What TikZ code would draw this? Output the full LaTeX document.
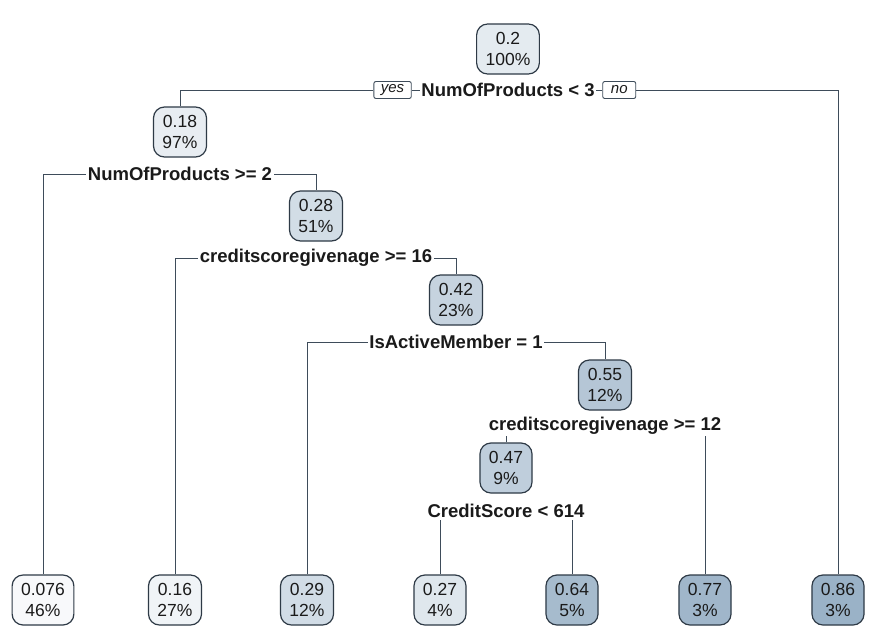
\documentclass[tikz,border=0pt]{standalone}
\usepackage{fontspec}
\setmainfont{Liberation Sans}
\usetikzlibrary{backgrounds}
\definecolor{nb}{HTML}{95AEC4}
\definecolor{bord}{HTML}{2E3A46}
\definecolor{conn}{HTML}{3E4C5A}
\definecolor{txt}{HTML}{1A1A1A}
\tikzset{
 tn/.style={draw=bord, line width=1.2pt, rounded corners=11pt, align=center, inner xsep=9pt, inner ysep=3pt, font=\fontsize{17.5}{21}\selectfont, text=txt, minimum height=50pt},
 sl/.style={fill=white, inner sep=1.5pt, font=\bfseries\fontsize{18.5}{20}\selectfont, text=txt},
 yn/.style={draw=conn, line width=0.9pt, fill=white, rounded corners=2pt, inner xsep=7pt, inner ysep=1pt, font=\itshape\fontsize{15}{16}\selectfont, minimum height=17pt, minimum width=33pt, text=txt},
 cn/.style={draw=conn, line width=1pt},
}
\begin{document}
\begin{tikzpicture}[x=1pt,y=-1pt]
\begin{pgfonlayer}{background}
\fill[white] (0,0) rectangle (870,641);
\end{pgfonlayer}
\useasboundingbox (0,0) rectangle (870,641);
% inner nodes
\node[tn, fill=nb!25] (r)   at (508,49)  {0.2\\100\%};
\node[tn, fill=nb!22] (n18) at (180,132) {0.18\\97\%};
\node[tn, fill=nb!42] (n28) at (316,216) {0.28\\51\%};
\node[tn, fill=nb!54] (n42) at (456,300) {0.42\\23\%};
\node[tn, fill=nb!70] (n55) at (605,385) {0.55\\12\%};
\node[tn, fill=nb!60] (n47) at (506,468) {0.47\\9\%};
% leaves
\node[tn, fill=nb!7]  (l076) at (43,600)  {0.076\\46\%};
\node[tn, fill=nb!14] (l16)  at (175,600) {0.16\\27\%};
\node[tn, fill=nb!43] (l29)  at (307,600) {0.29\\12\%};
\node[tn, fill=nb!30] (l27)  at (440,600) {0.27\\4\%};
\node[tn, fill=nb!84] (l64)  at (572,600) {0.64\\5\%};
\node[tn, fill=nb!90] (l77)  at (705,600) {0.77\\3\%};
\node[tn, fill=nb!95] (l86)  at (838,600) {0.86\\3\%};
% split labels
\node[sl] (s1) at (508,90)  {NumOfProducts < 3};
\node[sl] (s2) at (180,174) {NumOfProducts >= 2};
\node[sl] (s3) at (316,258) {creditscoregivenage >= 16};
\node[sl] (s4) at (456,342) {IsActiveMember = 1};
\node[sl] (s5) at (605,426) {creditscoregivenage >= 12};
\node[sl] (s6) at (506,511) {CreditScore < 614};
\node[yn, anchor=east] (yes) at ([xshift=-8pt]s1.west) {yes};
\node[yn, anchor=west] (no)  at ([xshift=6pt]s1.east) {no};
% connectors
\draw[cn] (n18.north) |- (yes.west);
\draw[cn] (yes.east) -- (s1.west);
\draw[cn] (s1.east) -- (no.west);
\draw[cn] (no.east) -| (l86.north);
\begin{pgfonlayer}{background}
\draw[cn] (l076.north) |- (s2.center) -| (n28.north);
\draw[cn] (l16.north) |- (s3.center) -| (n42.north);
\draw[cn] (l29.north) |- (s4.center) -| (n55.north);
\draw[cn] (n47.north) -- (n47.north |- s5.south);
\draw[cn] (l77.north) -- (l77.north |- s5.south);
\draw[cn] (l27.north) -- (l27.north |- s6.south);
\draw[cn] (l64.north) -- (l64.north |- s6.south);
\end{pgfonlayer}
\end{tikzpicture}
\end{document}
